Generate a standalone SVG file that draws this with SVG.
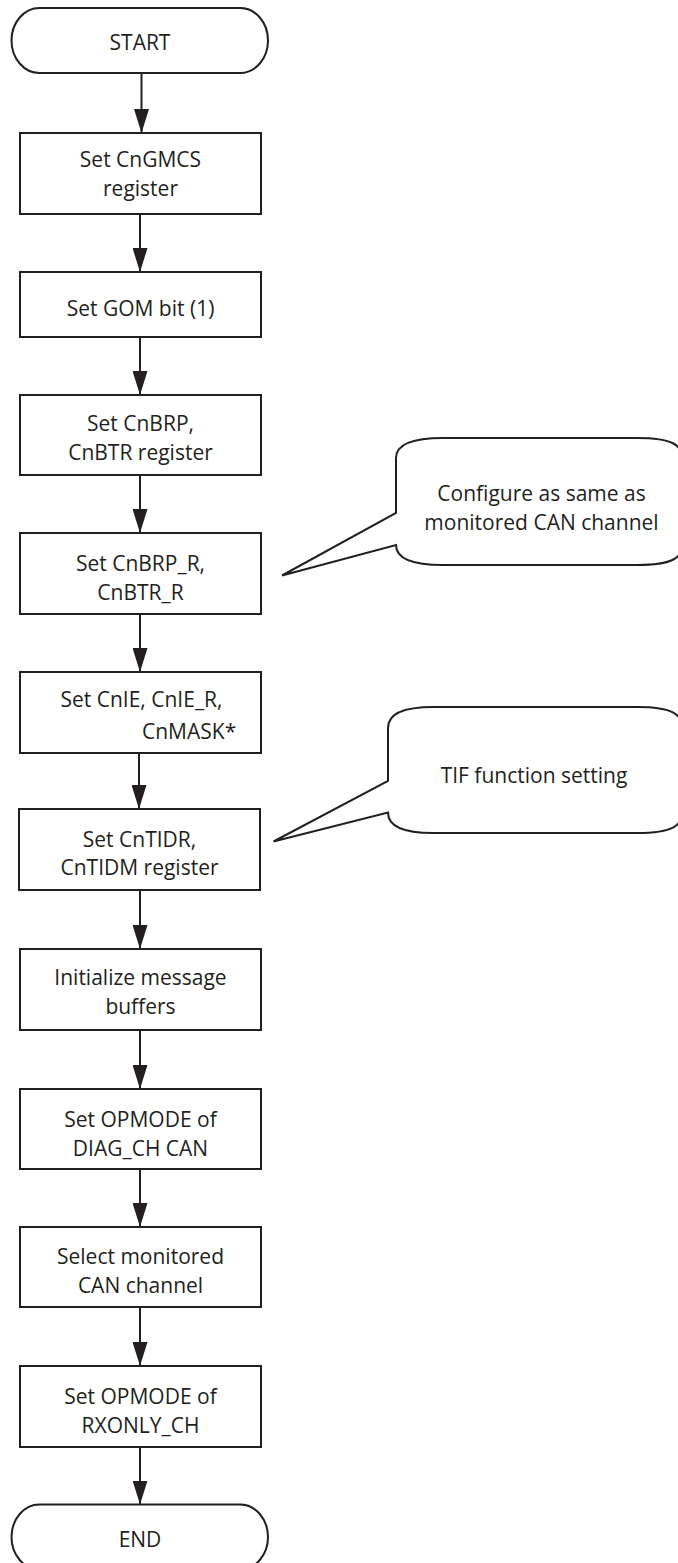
<svg xmlns="http://www.w3.org/2000/svg" width="678" height="1563" viewBox="0 0 678 1563">
  <style>
    .shape { fill: #ffffff; stroke: #231f20; stroke-width: 2; }
    .flow { fill: none; stroke: #231f20; stroke-width: 2; marker-end: url(#arrow); }
    .label { font-family: "Open Sans", "Noto Sans", "Liberation Sans", sans-serif; font-size: 21px; fill: #231f20; text-anchor: middle; }
    .left { text-anchor: start; }
  </style>
  <defs>
    <marker id="arrow" markerUnits="userSpaceOnUse" markerWidth="24" markerHeight="15" refX="24" refY="7.5" orient="auto">
      <path d="M0,0 L24,7.5 L0,15 Z" fill="#231f20"/>
    </marker>
  </defs>

  <rect width="678" height="1563" fill="#ffffff"/>

  <!-- connectors -->
  <g id="connectors">
    <line class="flow" x1="141.5" y1="73" x2="141.5" y2="133"/>
    <line class="flow" x1="140" y1="214" x2="140" y2="272"/>
    <line class="flow" x1="140" y1="337" x2="140" y2="395"/>
    <line class="flow" x1="140" y1="475" x2="140" y2="533"/>
    <line class="flow" x1="140" y1="614" x2="140" y2="672"/>
    <line class="flow" x1="139" y1="753" x2="139" y2="809"/>
    <line class="flow" x1="140" y1="890" x2="140" y2="949"/>
    <line class="flow" x1="140" y1="1030" x2="140" y2="1089"/>
    <line class="flow" x1="140" y1="1169" x2="140" y2="1227"/>
    <line class="flow" x1="140" y1="1307" x2="140" y2="1366"/>
    <line class="flow" x1="140" y1="1447" x2="140" y2="1504.5"/>
  </g>

  <!-- terminals -->
  <g id="start">
    <rect class="shape" x="11.5" y="8" width="256.5" height="65" rx="28" ry="32.5"/>
    <text class="label" x="140" y="50">START</text>
  </g>
  <g id="end">
    <rect class="shape" x="11.5" y="1504.5" width="256.5" height="65" rx="28" ry="32.5"/>
    <text class="label" x="140" y="1547">END</text>
  </g>

  <!-- process steps -->
  <g id="set-cngmcs">
    <rect class="shape" x="20" y="133" width="241" height="81"/>
    <text class="label" x="140.5" y="167">Set CnGMCS</text>
    <text class="label" x="140.5" y="196">register</text>
  </g>
  <g id="set-gom">
    <rect class="shape" x="20" y="272" width="241" height="65"/>
    <text class="label" x="140.5" y="315.5">Set GOM bit (1)</text>
  </g>
  <g id="set-cnbrp">
    <rect class="shape" x="20" y="395" width="241" height="80"/>
    <text class="label" x="140.5" y="431">Set CnBRP,</text>
    <text class="label" x="140.5" y="460">CnBTR register</text>
  </g>
  <g id="set-cnbrp-r">
    <rect class="shape" x="20" y="533" width="241" height="81"/>
    <text class="label" x="140.5" y="571">Set CnBRP_R,</text>
    <text class="label" x="140.5" y="600">CnBTR_R</text>
  </g>
  <g id="set-cnie">
    <rect class="shape" x="20" y="672" width="241" height="81"/>
    <text class="label" x="141.5" y="707">Set CnIE, CnIE_R,</text>
    <text class="label left" x="142" y="739">CnMASK*</text>
  </g>
  <g id="set-cntidr">
    <rect class="shape" x="19" y="809" width="241" height="81"/>
    <text class="label" x="139.5" y="847">Set CnTIDR,</text>
    <text class="label" x="139.5" y="875">CnTIDM register</text>
  </g>
  <g id="init-buffers">
    <rect class="shape" x="20" y="949" width="241" height="81"/>
    <text class="label" x="140.5" y="985">Initialize message</text>
    <text class="label" x="140.5" y="1013.5">buffers</text>
  </g>
  <g id="opmode-diag">
    <rect class="shape" x="20" y="1089" width="241" height="80"/>
    <text class="label" x="140.5" y="1127">Set OPMODE of</text>
    <text class="label" x="140.5" y="1156">DIAG_CH CAN</text>
  </g>
  <g id="select-channel">
    <rect class="shape" x="20" y="1227" width="241" height="80"/>
    <text class="label" x="140.5" y="1263.5">Select monitored</text>
    <text class="label" x="140.5" y="1293">CAN channel</text>
  </g>
  <g id="opmode-rxonly">
    <rect class="shape" x="20" y="1366" width="241" height="81"/>
    <text class="label" x="140.5" y="1403.5">Set OPMODE of</text>
    <text class="label" x="140.5" y="1433">RXONLY_CH</text>
  </g>

  <!-- callouts -->
  <g id="note-bitrate">
    <path class="shape" d="M396,513 L396,458 C396,446 408,438 443,438 L637,438 C674,438 682,446 682,458 L682,545 C682,557 674,565 637,565 L443,565 C408,565 396,557 396,545 L282,575.5 Z"/>
    <text class="label" x="541.5" y="501">Configure as same as</text>
    <text class="label" x="541.5" y="529.5">monitored CAN channel</text>
  </g>
  <g id="note-tif">
    <path class="shape" d="M388,781 L388,728 C388,715 400,707 433,707 L637,707 C674,707 682,715 682,728 L682,812 C682,825 674,833 637,833 L433,833 C400,833 388,825 388,812.5 L273.5,841.5 Z"/>
    <text class="label" x="534" y="782.5">TIF function setting</text>
  </g>
</svg>
